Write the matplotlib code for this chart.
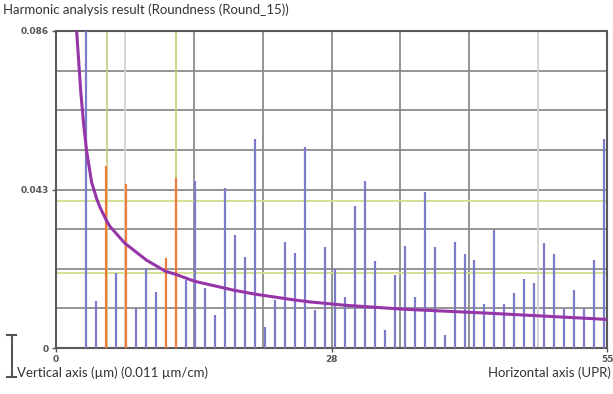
import numpy as np
import matplotlib.pyplot as plt
from matplotlib.lines import Line2D

# harmonic number (UPR) and amplitude (um)
harmonics = list(range(3, 56))
amplitude = [0.090, 0.0127, 0.0495, 0.0203, 0.0446, 0.0108, 0.0216, 0.0151, 0.0243, 0.0460,
             0.0184, 0.0454, 0.0162, 0.0089, 0.0433, 0.0306, 0.0246, 0.0568, 0.0057, 0.0130,
             0.0287, 0.0257, 0.0544, 0.0103, 0.0273, 0.0214, 0.0138, 0.0384, 0.0452, 0.0235,
             0.0049, 0.0197, 0.0276, 0.0138, 0.0422, 0.0273, 0.0035, 0.0287, 0.0254, 0.0238,
             0.0119, 0.0319, 0.0119, 0.0149, 0.0187, 0.0176, 0.0284, 0.0254, 0.0105, 0.0157,
             0.0105, 0.0238, 0.0568]
orange_harm = [5, 7, 11, 12]

# limit curve
curve_n = [2.07, 2.5, 2.8, 3.07, 3.57, 4.08, 4.41, 5.08, 5.41, 6.92, 9.1, 11, 12, 13.9,
           17, 17.8, 20, 24, 25.5, 29, 35, 43, 55, 55.3]
curve_v = [0.086, 0.069, 0.060, 0.0535, 0.045, 0.0405, 0.0382, 0.0345, 0.0330, 0.0284,
           0.0238, 0.0208, 0.0200, 0.0181, 0.0162, 0.0157, 0.0146, 0.0130, 0.0125, 0.0116,
           0.0105, 0.0095, 0.0078, 0.0077]

tol_levels = [0.0398, 0.0203]
marker_harm = [5.1, 12.0]

xmax = 55.3
ymax = 0.086
yticks = [0, 0.043, 0.086]
ylabels = ['0', '0.043', '0.086']
xticks = [0, xmax / 2, xmax]
xlabels = ['0', '28', '55']

fnt = 'Lato'

fig = plt.figure(figsize=(6.13, 3.94), dpi=100)
ax = fig.add_axes([56 / 613, 46 / 394, 551 / 613, 317 / 394])

for y in np.linspace(0, ymax, 9):
    ax.axhline(y, color='#8c8c8c', lw=1.3, zorder=1)
for i, x in enumerate(np.linspace(0, xmax, 9)):
    col = '#d2d2d2' if i in (1, 7) else '#8c8c8c'
    ax.axvline(x, color=col, lw=1.3, zorder=1)

for y in tol_levels:
    ax.axhline(y, color='#d4dc8c', lw=1.3, zorder=2)
for x in marker_harm:
    ax.axvline(x, color='#c8cc7c', lw=1.2, zorder=2)

colors = ['#f07c3c' if n in orange_harm else '#7c7cc8' for n in harmonics]
ax.vlines(harmonics, 0, amplitude, colors=colors, lw=1.6, zorder=3)
ax.plot(curve_n, curve_v, color='#9535a8', lw=2.2, zorder=4)

ax.set_xlim(0, xmax)
ax.set_ylim(0, ymax)
ax.set_xticks(xticks)
ax.set_xticklabels(xlabels)
ax.set_yticks(yticks)
ax.set_yticklabels(ylabels)
ax.tick_params(labelsize=6.5, colors='#555555', length=3, width=1, pad=2)
for t in ax.get_xticklabels() + ax.get_yticklabels():
    t.set_fontweight('bold')
for s in ax.spines.values():
    s.set_color('#5a5a5a')
    s.set_linewidth(1.5)

fig.text(3 / 613, 1 - 10 / 394, 'Harmonic analysis result (Roundness (Round_15))',
         fontsize=9.5, family=fnt, color='#333333', va='center', ha='left')
fig.text(17 / 613, 1 - 373 / 394, 'Vertical axis (µm) (0.011 µm/cm)',
         fontsize=9.5, family=fnt, color='#333333', va='center', ha='left')
fig.text(611 / 613, 1 - 373 / 394, 'Horizontal axis (UPR)',
         fontsize=9.5, family=fnt, color='#333333', va='center', ha='right')

# scale marker at lower left
bx = 11.7 / 613
y0, y1 = 1 - 377 / 394, 1 - 335 / 394
fig.add_artist(Line2D([bx, bx], [y0, y1], color='#555555', lw=1.5))
fig.add_artist(Line2D([7 / 613, 16 / 613], [y1, y1], color='#555555', lw=1.5))
fig.add_artist(Line2D([7 / 613, 16 / 613], [y0, y0], color='#555555', lw=1.5))

fig.savefig('out.png', dpi=100)
